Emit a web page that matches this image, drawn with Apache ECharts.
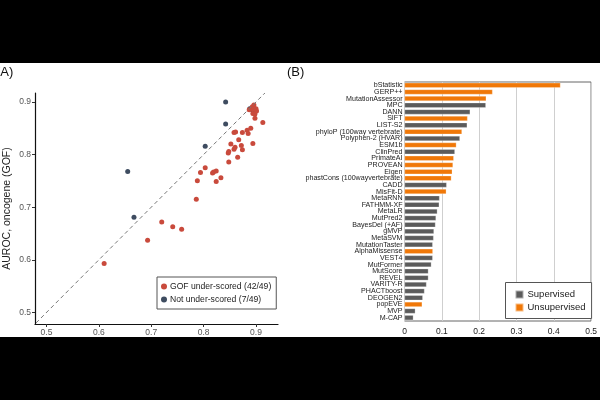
<!DOCTYPE html>
<html>
<head>
<meta charset="utf-8">
<script src="https://cdn.jsdelivr.net/npm/echarts@6/dist/echarts.min.js"></script>
<style>
  html, body { margin: 0; padding: 0; background: #000; }
  #chart { width: 600px; height: 400px; }
</style>
</head>
<body>
<div id="chart"></div>
<script>
// panel A: AUROC points (x, y)
const gofPoints = [
  [0.610, 0.593], [0.693, 0.637], [0.720, 0.672], [0.741, 0.663], [0.758, 0.658],
  [0.786, 0.715], [0.788, 0.750], [0.794, 0.766], [0.803, 0.775], [0.817, 0.765],
  [0.819, 0.767], [0.824, 0.769], [0.824, 0.749], [0.833, 0.756], [0.848, 0.786],
  [0.847, 0.803], [0.848, 0.806], [0.852, 0.820], [0.858, 0.810], [0.860, 0.814],
  [0.858, 0.842], [0.861, 0.843], [0.865, 0.795], [0.867, 0.828], [0.872, 0.817],
  [0.874, 0.809], [0.874, 0.842], [0.883, 0.846], [0.885, 0.840], [0.890, 0.850],
  [0.894, 0.821], [0.913, 0.861], [0.898, 0.869], [0.887, 0.885], [0.893, 0.891],
  [0.896, 0.894], [0.900, 0.887], [0.901, 0.883], [0.894, 0.878], [0.893, 0.886],
  [0.898, 0.877], [0.896, 0.887]
]
const notPoints = [
  [0.842, 0.900], [0.842, 0.858], [0.803, 0.816], [0.655, 0.768],
  [0.667, 0.681], [0.888, 0.887], [0.895, 0.882]
]
const diagEnds = [0.48, 0.917]
const scatterTicks = [0.5, 0.6, 0.7, 0.8, 0.9]

// panel B: methods, scores, training type (S = supervised, U = unsupervised)
const methods = [
  'bStatistic', 'GERP++', 'MutationAssessor', 'MPC', 'DANN', 'SIFT', 'LIST-S2',
  'phyloP (100way vertebrate)', 'Polyphen-2 (HVAR)', 'ESM1b', 'ClinPred', 'PrimateAI',
  'PROVEAN', 'Eigen', 'phastCons (100wayvertebrate)', 'CADD', 'MisFit-D', 'MetaRNN',
  'FATHMM-XF', 'MetaLR', 'MutPred2', 'BayesDel (+AF)', 'gMVP', 'MetaSVM',
  'MutationTaster', 'AlphaMissense', 'VEST4', 'MutFormer', 'MutScore', 'REVEL',
  'VARITY-R', 'PHACTboost', 'DEOGEN2', 'popEVE', 'MVP', 'M-CAP'
]
const scores = [
  0.418, 0.236, 0.219, 0.218, 0.176, 0.169, 0.168,
  0.154, 0.1485, 0.139, 0.135, 0.132,
  0.130, 0.128, 0.1256, 0.113, 0.112, 0.094,
  0.093, 0.088, 0.0845, 0.083, 0.079, 0.078,
  0.0756, 0.076, 0.0756, 0.072, 0.064, 0.064,
  0.059, 0.0536, 0.049, 0.0474, 0.029, 0.0237
]
const kinds = [
  'U', 'U', 'U', 'S', 'S', 'U', 'S',
  'U', 'S', 'U', 'S', 'U',
  'U', 'U', 'U', 'S', 'U', 'S',
  'S', 'S', 'S', 'S', 'S', 'S',
  'S', 'U', 'S', 'S', 'S', 'S',
  'S', 'S', 'S', 'U', 'S', 'S'
]

const RED = '#c94a3c'
const NAVY = '#3e4c60'
const GREY = '#5b5b5b'
const ORANGE = '#f07808'
const font = 'Liberation Sans, Arial, sans-serif'

const chart = echarts.init(document.getElementById('chart'))

const supervised = scores.map((v, i) => (kinds[i] === 'S' ? v : '-'))
const unsupervised = scores.map((v, i) => (kinds[i] === 'U' ? v : '-'))

const option = {
  backgroundColor: '#000',
  animation: false,
  textStyle: { fontFamily: font },
  graphic: [
    { type: 'rect', z: -10, shape: { x: 0, y: 63, width: 600, height: 274 }, style: { fill: '#fff' } },
    { type: 'text', x: -4, y: 66, style: { text: '(A)', font: '13px ' + font, fill: '#111' } },
    { type: 'text', x: 287, y: 66, style: { text: '(B)', font: '13px ' + font, fill: '#111' } }
  ],
  grid: [
    { left: 35, top: 93, width: 243, height: 231 },
    { left: 404.5, top: 82, right: 5.5, bottom: 79, show: true, borderColor: '#666', borderWidth: 1 }
  ],
  legend: [
    {
      data: ['GOF under-scored (42/49)', 'Not under-scored (7/49)'],
      orient: 'vertical',
      left: 157, top: 277,
      padding: [5, 5, 5, 4],
      itemGap: 4,
      itemWidth: 6, itemHeight: 6,
      icon: 'circle',
      borderColor: '#555', borderWidth: 1,
      backgroundColor: '#fff',
      textStyle: { fontSize: 8.6, color: '#222', padding: [0, 0, 0, -2] }
    },
    {
      data: ['Supervised', 'Unsupervised'],
      orient: 'vertical',
      left: 505.5, top: 282.5,
      padding: [7, 6, 6, 9],
      itemGap: 3,
      itemWidth: 8, itemHeight: 8,
      icon: 'rect',
      borderColor: '#555', borderWidth: 1,
      backgroundColor: '#fff',
      textStyle: { fontSize: 9.5, color: '#222', padding: [0, 0, 0, -1] }
    }
  ],
  xAxis: [
    {
      gridIndex: 0, type: 'value', min: 0.478, max: 0.942,
      axisLine: { lineStyle: { color: '#111', width: 1.2 } },
      axisTick: { show: true, length: 3, customValues: scatterTicks, lineStyle: { color: '#333' } },
      axisLabel: { customValues: scatterTicks, fontSize: 8.5, color: '#555', margin: 4 },
      splitLine: { show: false }
    },
    {
      gridIndex: 1, type: 'value', min: 0, max: 0.5, interval: 0.1,
      axisLine: { show: false },
      axisTick: { show: false },
      axisLabel: { fontSize: 8.5, color: '#222', margin: 6, formatter: v => (v === 0 ? '0' : String(v)) },
      splitLine: { lineStyle: { color: '#cfcfcf', width: 1 } }
    }
  ],
  yAxis: [
    {
      gridIndex: 0, type: 'value', min: 0.478, max: 0.917,
      name: 'AUROC, oncogene (GOF)', nameLocation: 'middle', nameGap: 22,
      nameTextStyle: { fontSize: 10.5, color: '#222' },
      axisLine: { show: true, lineStyle: { color: '#111', width: 1.2 } },
      axisTick: { show: true, length: 3, customValues: scatterTicks, lineStyle: { color: '#333' } },
      axisLabel: { customValues: scatterTicks, fontSize: 8.5, color: '#555', margin: 4 },
      splitLine: { show: false }
    },
    {
      gridIndex: 1, type: 'category', data: methods, inverse: true,
      axisLine: { show: false },
      axisTick: { show: false },
      axisLabel: { fontSize: 7.1, color: '#222', margin: 2, interval: 0 }
    }
  ],
  series: [
    {
      type: 'line', xAxisIndex: 0, yAxisIndex: 0,
      data: diagEnds.map(v => [v, v]),
      symbol: 'none', silent: true,
      lineStyle: { color: '#777', width: 1, type: [4, 3] }
    },
    {
      name: 'Not under-scored (7/49)', type: 'scatter', xAxisIndex: 0, yAxisIndex: 0,
      data: notPoints, symbolSize: 5, itemStyle: { color: NAVY, opacity: 1 }
    },
    {
      name: 'GOF under-scored (42/49)', type: 'scatter', xAxisIndex: 0, yAxisIndex: 0,
      data: gofPoints, symbolSize: 5, itemStyle: { color: RED, opacity: 1 }
    },
    {
      name: 'Supervised', type: 'bar', xAxisIndex: 1, yAxisIndex: 1, stack: 'm',
      data: supervised, barWidth: 5,
      itemStyle: { color: GREY, borderColor: 'rgba(255,255,255,0.5)', borderWidth: 0.5 }
    },
    {
      name: 'Unsupervised', type: 'bar', xAxisIndex: 1, yAxisIndex: 1, stack: 'm',
      data: unsupervised, barWidth: 5,
      itemStyle: { color: ORANGE, borderColor: 'rgba(255,255,255,0.5)', borderWidth: 0.5 }
    }
  ]
}

chart.setOption(option)
</script>
</body>
</html>
